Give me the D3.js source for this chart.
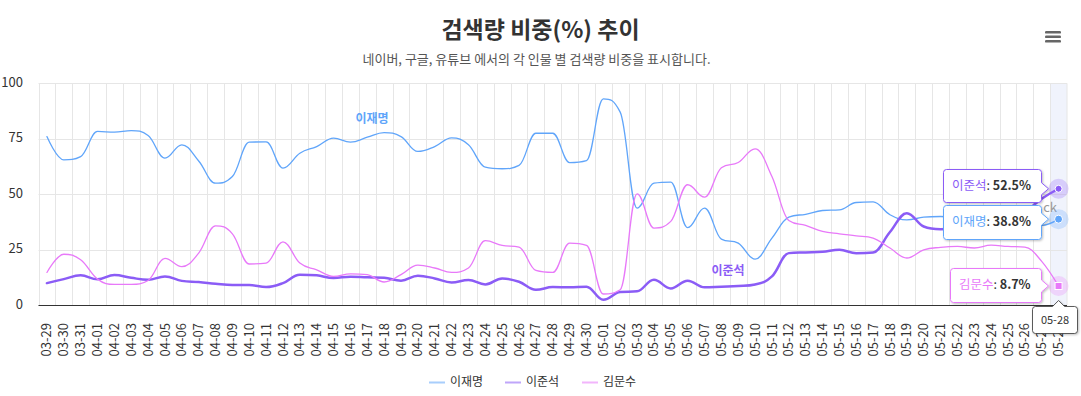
<!DOCTYPE html>
<html>
<head>
<meta charset="utf-8">
<script src="https://cdnjs.cloudflare.com/ajax/libs/d3/7.8.5/d3.min.js"></script>
<style>
body { margin: 0; background: #fff; }
text { font-family: "Noto Sans CJK KR", "Noto Sans", sans-serif; }
</style>
</head>
<body>
<svg id="chart"></svg>
<script>

// categories (MM-DD)
var dates = [
  "03-29", "03-30", "03-31",
  "04-01", "04-02", "04-03", "04-04", "04-05", "04-06", "04-07", "04-08", "04-09", "04-10",
  "04-11", "04-12", "04-13", "04-14", "04-15", "04-16", "04-17", "04-18", "04-19", "04-20",
  "04-21", "04-22", "04-23", "04-24", "04-25", "04-26", "04-27", "04-28", "04-29", "04-30",
  "05-01", "05-02", "05-03", "05-04", "05-05", "05-06", "05-07", "05-08", "05-09", "05-10",
  "05-11", "05-12", "05-13", "05-14", "05-15", "05-16", "05-17", "05-18", "05-19", "05-20",
  "05-21", "05-22", "05-23", "05-24", "05-25", "05-26", "05-27", "05-28"
]

// 이재명
var leeJM = [
  76, 65.5, 67,
  78.3, 78, 78.7, 76.5, 66.3, 72.3, 65, 55, 58, 73.5,
  73.6, 61.8, 68.5, 71.5, 75.3, 73.5, 75.7, 77.8, 76, 69.3,
  71.5, 75.4, 72.3, 62.2, 61.5, 63, 77.5, 77.5, 64.3, 65.2,
  93, 87, 43.8, 55, 55.5, 35, 43.8, 29.8, 28, 20.8,
  30.3, 39.7, 41, 42.7, 43, 46.3, 46.6, 40.8, 38.5, 39.7,
  40, 39.5, 39, 39.5, 39, 38.5, 36, 38.8
]

// 이준석
var leeJS = [
  10, 11.8, 13.5,
  11.7, 13.6, 12.4, 11.5, 13, 11, 10.5, 9.7, 9.1, 9.1,
  8.2, 10, 13.8, 13.5, 12.3, 12.9, 12.6, 12.4, 11.1, 13.3,
  12.1, 10.3, 11.4, 9.4, 12.1, 10.6, 7, 8.2, 8.1, 8.4,
  2.5, 6, 6.3, 11.5, 7.6, 11.1, 8.1, 8.4, 8.7, 9.4,
  13, 23.5, 23.8, 24.1, 25, 23.5, 23.8, 33, 41.5, 35.5,
  34.3, 34.5, 35, 36, 38, 42, 48, 52.5
]

// 김문수
var kimMS = [
  14.8, 23, 20.5,
  11.8, 9.4, 9.4, 11.2, 21.1, 17.4, 23.5, 35.8, 32.2, 18.6,
  19, 28.6, 19, 16, 13, 14.2, 13.8, 10.5, 13.8, 18.1,
  16.8, 14.8, 16.8, 29.1, 27, 26.2, 15.7, 14.8, 28, 27,
  5.1, 7, 50.2, 34.8, 37.8, 54.3, 48.7, 62, 64.3, 70.5,
  58, 38.2, 36, 33.3, 32.2, 31.3, 30.3, 25.8, 21.3, 25,
  26.1, 26.5, 25.8, 27.1, 26.5, 26.2, 19.8, 8.7
]

var seriesNames = ["이재명", "이준석", "김문수"]
var seriesColors = ["#60a5fa", "#8b5cf6", "#e879f9"]
var seriesWidths = [1.3, 2.5, 1.3]
var yTicks = [0, 25, 50, 75, 100]
var hoverIndex = 60

var W = 1081, H = 396
var plot = { left: 38.5, right: 1067, top: 83.3, bottom: 305.3 }

var svg = d3.select("#chart").attr("width", W).attr("height", H)

var defs = svg.append("defs")
defs.append("filter").attr("id", "shadow")
  .attr("x", "-20%").attr("y", "-20%").attr("width", "140%").attr("height", "150%")
  .append("feDropShadow")
  .attr("dx", 1).attr("dy", 1).attr("stdDeviation", 1.2)
  .attr("flood-color", "#000").attr("flood-opacity", 0.25)

var x = d3.scaleBand().domain(dates).range([plot.left, plot.right])
var y = d3.scaleLinear().domain([0, 100]).range([plot.bottom, plot.top])
var cx = function(i) { return x(dates[i]) + x.bandwidth() / 2 }

// title
svg.append("text")
  .attr("x", W / 2).attr("y", 38)
  .attr("text-anchor", "middle")
  .attr("font-size", 23).attr("font-weight", "bold").attr("fill", "#333")
  .text("검색량 비중(%) 추이")

svg.append("text")
  .attr("x", W / 2 - 4).attr("y", 64)
  .attr("text-anchor", "middle")
  .attr("font-size", 13).attr("fill", "#555")
  .text("네이버, 구글, 유튜브 에서의 각 인물 별 검색량 비중을 표시합니다.")

// hamburger
var menu = svg.append("g").attr("transform", "translate(1045,31)")
;[0, 4.5, 9].forEach(function(d) {
  menu.append("rect").attr("x", 0).attr("y", d).attr("width", 16).attr("height", 2.6)
    .attr("rx", 1.2).attr("fill", "#666")
})

// hover band
svg.append("rect")
  .attr("x", x(dates[hoverIndex])).attr("y", plot.top)
  .attr("width", x.bandwidth()).attr("height", plot.bottom - plot.top)
  .attr("fill", "rgba(204,214,245,0.3)")

// grid
var grid = svg.append("g").attr("stroke", "#e6e6e6").attr("stroke-width", 1)
dates.forEach(function(d) {
  var gx = Math.round(x(d)) + 0.5
  grid.append("line").attr("x1", gx).attr("x2", gx).attr("y1", plot.top).attr("y2", plot.bottom)
})
grid.append("line").attr("x1", plot.right).attr("x2", plot.right).attr("y1", plot.top).attr("y2", plot.bottom)
yTicks.forEach(function(t) {
  var gy = Math.round(y(t)) + 0.5
  grid.append("line").attr("x1", plot.left).attr("x2", plot.right).attr("y1", gy).attr("y2", gy)
})

// y labels
yTicks.forEach(function(t) {
  svg.append("text")
    .attr("x", 23).attr("y", y(t) - 1).attr("dy", "0.35em")
    .attr("text-anchor", "end").attr("font-size", 13).attr("fill", "#333")
    .text(t)
})

// x axis line
svg.append("line")
  .attr("x1", plot.left).attr("x2", plot.right)
  .attr("y1", Math.round(plot.bottom) + 0.5).attr("y2", Math.round(plot.bottom) + 0.5)
  .attr("stroke", "#333").attr("stroke-width", 1)

// x labels
dates.forEach(function(d, i) {
  svg.append("text")
    .attr("transform", "translate(" + cx(i) + ",323) rotate(-90)")
    .attr("dy", "0.35em")
    .attr("text-anchor", "end").attr("font-size", 13).attr("fill", "#333")
    .text(d)
})

// highcharts-like spline
function spline(pts) {
  var sm = 1.5, den = sm + 1
  var ctrl = pts.map(function(p, i) {
    if (i === 0 || i === pts.length - 1) return null
    var last = pts[i - 1], next = pts[i + 1]
    var lx = (sm * p[0] + last[0]) / den, ly = (sm * p[1] + last[1]) / den
    var rx = (sm * p[0] + next[0]) / den, ry = (sm * p[1] + next[1]) / den
    var corr = 0
    if (rx !== lx) corr = ((ry - ly) * (rx - p[0])) / (rx - lx) + p[1] - ry
    ly += corr; ry += corr
    if (ly > last[1] && ly > p[1]) { ly = Math.max(last[1], p[1]); ry = 2 * p[1] - ly }
    else if (ly < last[1] && ly < p[1]) { ly = Math.min(last[1], p[1]); ry = 2 * p[1] - ly }
    if (ry > next[1] && ry > p[1]) { ry = Math.max(next[1], p[1]); ly = 2 * p[1] - ry }
    else if (ry < next[1] && ry < p[1]) { ry = Math.min(next[1], p[1]); ly = 2 * p[1] - ry }
    return { lx: lx, ly: ly, rx: rx, ry: ry }
  })
  var path = d3.path()
  path.moveTo(pts[0][0], pts[0][1])
  for (var i = 1; i < pts.length; i++) {
    var c0 = ctrl[i - 1], c1 = ctrl[i]
    path.bezierCurveTo(
      c0 ? c0.rx : pts[i - 1][0], c0 ? c0.ry : pts[i - 1][1],
      c1 ? c1.lx : pts[i][0], c1 ? c1.ly : pts[i][1],
      pts[i][0], pts[i][1])
  }
  return path.toString()
}

var allSeries = [leeJM, leeJS, kimMS]
allSeries.forEach(function(vals, s) {
  var pts = vals.map(function(v, i) { return [cx(i), y(v)] })
  svg.append("path")
    .attr("d", spline(pts))
    .attr("fill", "none")
    .attr("stroke", seriesColors[s])
    .attr("stroke-width", seriesWidths[s])
    .attr("stroke-linejoin", "round").attr("stroke-linecap", "round")
})

// series labels
svg.append("text").attr("x", 372).attr("y", 119).attr("dy", "0.35em")
  .attr("text-anchor", "middle").attr("font-size", 12).attr("font-weight", "bold")
  .attr("fill", seriesColors[0]).text(seriesNames[0])
svg.append("text").attr("x", 728).attr("y", 271).attr("dy", "0.35em")
  .attr("text-anchor", "middle").attr("font-size", 12).attr("font-weight", "bold")
  .attr("fill", seriesColors[1]).text(seriesNames[1])

// faint label partly hidden behind tooltips
svg.append("text").attr("x", 1057).attr("y", 212)
  .attr("text-anchor", "end").attr("font-size", 13).attr("fill", "#999").text("ck")

// hover markers
allSeries.forEach(function(vals, s) {
  var px = cx(hoverIndex), py = y(vals[hoverIndex])
  svg.append("circle").attr("cx", px).attr("cy", py).attr("r", 10)
    .attr("fill", seriesColors[s]).attr("fill-opacity", 0.25)
  if (s === 2) {
    svg.append("rect").attr("x", px - 3.5).attr("y", py - 3.5).attr("width", 7).attr("height", 7)
      .attr("fill", seriesColors[s]).attr("stroke", "#fff").attr("stroke-width", 1)
  } else {
    svg.append("circle").attr("cx", px).attr("cy", py).attr("r", s === 0 ? 4 : 3.5)
      .attr("fill", seriesColors[s]).attr("stroke", "#fff").attr("stroke-width", 1)
  }
})

// split tooltips
function calloutRight(bx, by, bw, bh, ay) {
  var r = 3, tip = 7, p = d3.path(), rt = bx + bw
  p.moveTo(bx + r, by)
  p.lineTo(rt - r, by)
  p.quadraticCurveTo(rt, by, rt, by + r)
  p.lineTo(rt, ay - 6)
  p.lineTo(rt + tip, ay)
  p.lineTo(rt, ay + 6)
  p.lineTo(rt, by + bh - r)
  p.quadraticCurveTo(rt, by + bh, rt - r, by + bh)
  p.lineTo(bx + r, by + bh)
  p.quadraticCurveTo(bx, by + bh, bx, by + bh - r)
  p.lineTo(bx, by + r)
  p.quadraticCurveTo(bx, by, bx + r, by)
  p.closePath()
  return p.toString()
}

var tips = [
  { s: 1, box: [943, 169, 98, 33] },
  { s: 0, box: [943, 205, 98, 34] },
  { s: 2, box: [950, 268, 91, 34] }
]
tips.forEach(function(t) {
  var b = t.box, v = allSeries[t.s][hoverIndex]
  var g = svg.append("g")
  g.append("path")
    .attr("d", calloutRight(b[0] + 0.5, b[1] + 0.5, b[2], b[3], y(v)))
    .attr("fill", "#fff").attr("stroke", seriesColors[t.s]).attr("stroke-width", 1)
    .attr("filter", "url(#shadow)")
  var tx = g.append("text").attr("x", b[0] + 9).attr("y", b[1] + b[3] / 2).attr("dy", "0.35em")
    .attr("font-size", 12.5).attr("fill", "#333")
  tx.append("tspan").attr("fill", seriesColors[t.s]).text(seriesNames[t.s])
  tx.append("tspan").text(": ")
  tx.append("tspan").attr("font-weight", "bold").text(v + "%")
})

// date tooltip
var dx0 = 1032.5, dy0 = 306.5, dw = 45, dh = 27, ax = cx(hoverIndex)
var dp = d3.path()
dp.moveTo(dx0 + 3, dy0)
dp.lineTo(ax - 6, dy0)
dp.lineTo(ax, dy0 - 6)
dp.lineTo(ax + 6, dy0)
dp.lineTo(dx0 + dw - 3, dy0)
dp.quadraticCurveTo(dx0 + dw, dy0, dx0 + dw, dy0 + 3)
dp.lineTo(dx0 + dw, dy0 + dh - 3)
dp.quadraticCurveTo(dx0 + dw, dy0 + dh, dx0 + dw - 3, dy0 + dh)
dp.lineTo(dx0 + 3, dy0 + dh)
dp.quadraticCurveTo(dx0, dy0 + dh, dx0, dy0 + dh - 3)
dp.lineTo(dx0, dy0 + 3)
dp.quadraticCurveTo(dx0, dy0, dx0 + 3, dy0)
dp.closePath()
svg.append("path").attr("d", dp.toString())
  .attr("fill", "#fff").attr("stroke", "#333").attr("stroke-width", 0.8)
  .attr("filter", "url(#shadow)")
svg.append("text").attr("x", dx0 + dw / 2).attr("y", dy0 + dh / 2).attr("dy", "0.35em")
  .attr("text-anchor", "middle").attr("font-size", 11).attr("fill", "#333")
  .text(dates[hoverIndex])

// legend
var legendX = [429, 505, 582]
seriesNames.forEach(function(n, s) {
  svg.append("line")
    .attr("x1", legendX[s]).attr("x2", legendX[s] + 16)
    .attr("y1", 382.5).attr("y2", 382.5)
    .attr("stroke", seriesColors[s]).attr("stroke-opacity", 0.55).attr("stroke-width", 2)
  svg.append("text").attr("x", legendX[s] + 21).attr("y", 382).attr("dy", "0.35em")
    .attr("font-size", 12).attr("fill", "#333").text(n)
})

</script>
</body>
</html>
